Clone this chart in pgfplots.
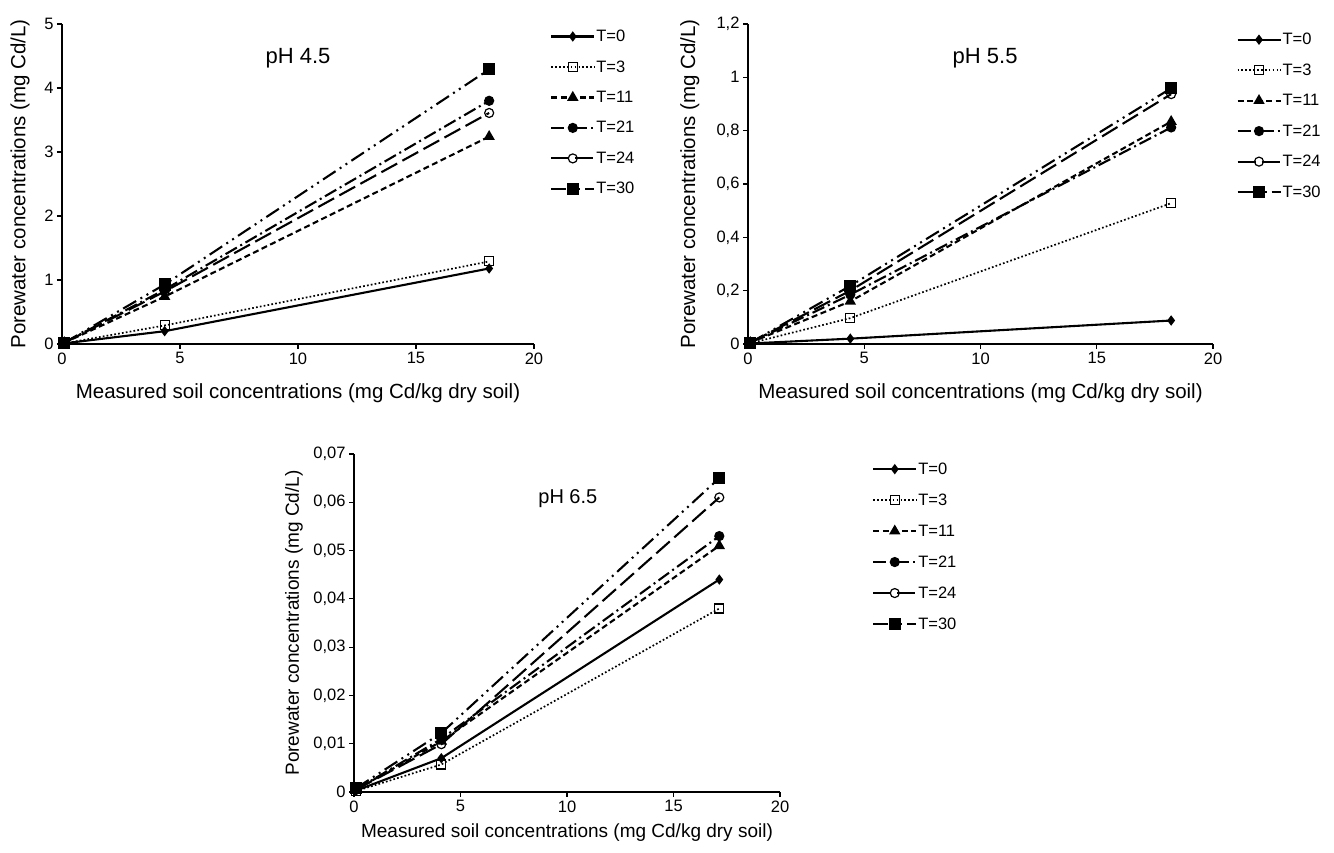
\documentclass[border=0pt]{standalone}
\usepackage{fontspec}
\setmainfont{Liberation Sans}
\usepackage{pgfplots}
\usepackage{pgfplotstable}
\pgfplotsset{compat=1.18}

\pgfplotstableread{
x     T0     T3     T11    T21    T24    T30
0.1   0.01   0.01   0.02   0.02   0.02   0.02
4.35  0.20   0.29   0.74   0.85   0.82   0.93
18.1  1.18   1.29   3.24   3.80   3.61   4.29
}\phA
\pgfplotstableread{
x     T0     T3     T11    T21    T24    T30
0.1   0.002  0.003  0.005  0.005  0.005  0.005
4.4   0.020  0.097  0.160  0.185  0.200  0.218
18.2  0.088  0.528  0.834  0.812  0.937  0.959
}\phB
\pgfplotstableread{
x     T0      T3      T11     T21     T24     T30
0.1   0.0003  0.0002  0.0005  0.0005  0.0005  0.0008
4.1   0.0070  0.0057  0.0105  0.0110  0.0099  0.0122
17.15 0.0440  0.0380  0.0510  0.0530  0.0610  0.0650
}\phC

\pgfplotsset{
  legend image code/.code={\draw[mark repeat=2,mark phase=2,#1] plot coordinates {(0pt,0pt) (21.5pt,0pt) (43pt,0pt)};},
  panel/.style={
    scale only axis, clip=false,
    axis lines=left, axis line style={line width=2.2pt,-},
    xmin=0, xmax=20, xtick={0,5,10,15,20},
    scaled y ticks=false,
    tick align=outside, major tick length=5pt,
    tick style={line width=1.2pt,black},
    ticklabel style={font=\fontsize{16.5}{19}\selectfont},
    /pgf/number format/assume math mode=true,
    legend cell align=left,
    legend style={draw=none, fill=none, inner sep=0pt, anchor=north west,
      font=\fontsize{16.5}{19}\selectfont, row sep=15.5pt,
      nodes={inner sep=1pt}},
  },
  s0/.style={solid, line width=2.1pt, mark=diamond*, mark size=3.5pt, mark options={solid,fill=black}},
  s3/.style={dash pattern=on 1.7pt off 2.2pt, line width=1.7pt, mark=square, mark size=4.5pt, mark options={solid,fill=white,line width=1.1pt}},
  s11/.style={dash pattern=on 6pt off 3.5pt, line width=2.1pt, mark=triangle*, mark size=4.5pt, mark options={solid,fill=black}},
  s21/.style={dash pattern=on 13pt off 4pt on 2pt off 4pt, line width=2.1pt, mark=*, mark size=4pt, mark options={solid,fill=black}},
  s24/.style={dash pattern=on 18pt off 6pt, line width=2.1pt, mark=o, mark size=4.5pt, mark options={solid,fill=white,line width=1.2pt}},
  s30/.style={dash pattern=on 15pt off 5pt on 2pt off 5pt on 2pt off 5pt, line width=2.1pt, mark=square*, mark size=5pt, mark options={solid,fill=black}},
}

\begin{document}
\begin{tikzpicture}
\useasboundingbox (0,0) rectangle (1334pt,853pt);

% panel pH 4.5
\begin{axis}[panel, at={(62pt,509pt)}, anchor=south west,
  width=472pt, height=320pt,
  ymin=0, ymax=5, ytick={0,1,2,3,4,5},
  xlabel={Measured soil concentrations (mg Cd/kg dry soil)},
  ylabel={Porewater concentrations (mg Cd/L)},
  label style={font=\fontsize{20.5}{24}\selectfont},
  xlabel style={at={(axis description cs:0.5,-0.153)}, anchor=center},
  ylabel style={at={(axis description cs:-0.089,0.5)}, anchor=center},
  legend style={at={(1.034,0.985)}},
]
\addplot[s0] table[x=x,y=T0]{\phA};
\addplot[s3] table[x=x,y=T3]{\phA};
\addplot[s11] table[x=x,y=T11]{\phA};
\addplot[s21] table[x=x,y=T21]{\phA};
\addplot[s24] table[x=x,y=T24]{\phA};
\addplot[s30] table[x=x,y=T30]{\phA};
\legend{T=0,T=3,T=11,T=21,T=24,T=30}
\node[font=\fontsize{22}{26}\selectfont] at (rel axis cs:0.5,0.894) {pH 4.5};
\end{axis}

% panel pH 5.5
\begin{axis}[panel, at={(748pt,509pt)}, anchor=south west,
  width=465pt, height=320pt,
  ymin=0, ymax=1.2, ytick={0,0.2,0.4,0.6,0.8,1,1.2},
  yticklabels={0,{0,2},{0,4},{0,6},{0,8},1,{1,2}},
  xlabel={Measured soil concentrations (mg Cd/kg dry soil)},
  ylabel={Porewater concentrations (mg Cd/L)},
  label style={font=\fontsize{20.5}{24}\selectfont},
  xlabel style={at={(axis description cs:0.5,-0.153)}, anchor=center},
  ylabel style={at={(axis description cs:-0.125,0.5)}, anchor=center},
  legend style={at={(1.05,0.975)}},
]
\addplot[s0] table[x=x,y=T0]{\phB};
\addplot[s3] table[x=x,y=T3]{\phB};
\addplot[s11] table[x=x,y=T11]{\phB};
\addplot[s21] table[x=x,y=T21]{\phB};
\addplot[s24] table[x=x,y=T24]{\phB};
\addplot[s30] table[x=x,y=T30]{\phB};
\legend{T=0,T=3,T=11,T=21,T=24,T=30}
\node[font=\fontsize{22}{26}\selectfont] at (rel axis cs:0.51,0.894) {pH 5.5};
\end{axis}

% panel pH 6.5
\begin{axis}[panel, at={(354pt,61pt)}, anchor=south west,
  width=426pt, height=338pt,
  ymin=0, ymax=0.07, ytick={0,0.01,0.02,0.03,0.04,0.05,0.06,0.07},
  yticklabels={0,{0,01},{0,02},{0,03},{0,04},{0,05},{0,06},{0,07}},
  xlabel={Measured soil concentrations (mg Cd/kg dry soil)},
  ylabel={Porewater concentrations (mg Cd/L)},
  label style={font=\fontsize{19}{22}\selectfont},
  xlabel style={at={(axis description cs:0.5,-0.121)}, anchor=center},
  ylabel style={at={(axis description cs:-0.141,0.5)}, anchor=center},
  legend style={at={(1.216,0.978)}, row sep=16pt},
]
\addplot[s0] table[x=x,y=T0]{\phC};
\addplot[s3] table[x=x,y=T3]{\phC};
\addplot[s11] table[x=x,y=T11]{\phC};
\addplot[s21] table[x=x,y=T21]{\phC};
\addplot[s24] table[x=x,y=T24]{\phC};
\addplot[s30] table[x=x,y=T30]{\phC};
\legend{T=0,T=3,T=11,T=21,T=24,T=30}
\node[font=\fontsize{20}{24}\selectfont] at (rel axis cs:0.502,0.867) {pH 6.5};
\end{axis}
\end{tikzpicture}
\end{document}
